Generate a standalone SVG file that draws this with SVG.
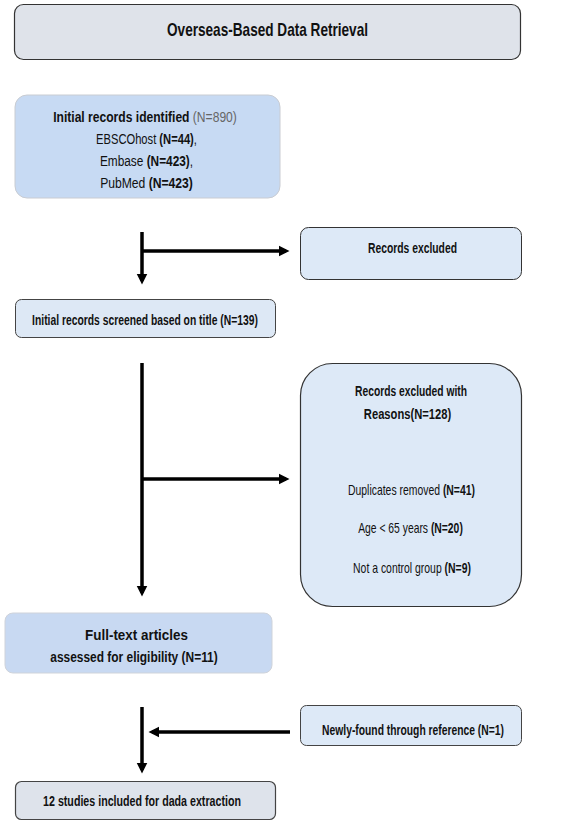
<svg xmlns="http://www.w3.org/2000/svg" width="568" height="821" viewBox="0 0 568 821">
<style>
text{font-family:"Liberation Sans",Arial,sans-serif;fill:#111;font-size:14px;text-anchor:middle}
.k{font-size:15px}
.h{font-size:18px}
.b{font-weight:bold}
.g{fill:#666;font-weight:normal}
.conn{stroke:#000;stroke-width:3.5;fill:none}
</style>
<defs>
<marker id="ah" markerWidth="6" markerHeight="6" refX="2" refY="3" orient="auto" markerUnits="strokeWidth">
<path d="M0,1.5 L3,3 L0,4.5 Z" fill="#000"/>
</marker>
</defs>
<rect width="568" height="821" fill="#fff"/>
<g id="title">
<rect x="14.5" y="4.5" width="506" height="55" rx="9" fill="#dfe3ea" stroke="#333" stroke-width="1.2"/>
<text class="h b" transform="translate(267.5,36) scale(0.756,1)">Overseas-Based Data Retrieval</text>
</g>
<g id="initial">
<rect x="15" y="95" width="265" height="103" rx="12" fill="#c7daf3" stroke="#c9ccd2" stroke-width="1"/>
<text class="k" transform="translate(145,122) scale(0.807,1)"><tspan class="b">Initial records identified</tspan><tspan class="g"> (N=890)</tspan></text>
<text class="k" transform="translate(146.5,144) scale(0.745,1)">EBSCOhost <tspan class="b">(N=44)</tspan>,</text>
<text class="k" transform="translate(146.5,166) scale(0.79,1)">Embase <tspan class="b">(N=423)</tspan>,</text>
<text class="k" transform="translate(146.5,188) scale(0.81,1)">PubMed <tspan class="b">(N=423)</tspan></text>
</g>
<g id="excluded1">
<rect x="300.5" y="227.5" width="221" height="52" rx="8" fill="#dde9f7" stroke="#333" stroke-width="1"/>
<text class="b" transform="translate(412.5,253) scale(0.738,1)">Records excluded</text>
</g>
<g id="screened">
<rect x="15.5" y="299.5" width="260" height="38" rx="6" fill="#dde8f5" stroke="#444" stroke-width="1"/>
<text class="b" transform="translate(145,325) scale(0.738,1)">Initial records screened based on title (N=139)</text>
</g>
<g id="excluded2">
<rect x="300.5" y="363.5" width="221" height="243" rx="32" fill="#dde9f7" stroke="#333" stroke-width="1.2"/>
<text class="b" transform="translate(411,396) scale(0.735,1)">Records excluded with</text>
<text class="b" transform="translate(407.5,419) scale(0.8,1)">Reasons(N=128)</text>
<text transform="translate(411.5,495) scale(0.744,1)">Duplicates removed <tspan class="b">(N=41)</tspan></text>
<text transform="translate(410.5,533) scale(0.74,1)">Age &lt; 65 years <tspan class="b">(N=20)</tspan></text>
<text transform="translate(412,573) scale(0.745,1)">Not a control group <tspan class="b">(N=9)</tspan></text>
</g>
<g id="fulltext">
<rect x="5" y="613" width="267" height="60" rx="8" fill="#c8d9f2" stroke="#cfd3da" stroke-width="1"/>
<text class="k b" transform="translate(136.5,640) scale(0.895,1)">Full-text articles</text>
<text class="k b" transform="translate(134,662) scale(0.796,1)">assessed for eligibility (N=11)</text>
</g>
<g id="newly">
<rect x="300.5" y="705.5" width="221" height="40" rx="6" fill="#dde9f7" stroke="#444" stroke-width="1"/>
<text class="b" transform="translate(413,735) scale(0.737,1)">Newly-found through reference (N=1)</text>
</g>
<g id="final">
<rect x="15.5" y="781.5" width="260" height="38" rx="6" fill="#dee3eb" stroke="#444" stroke-width="1.2"/>
<text class="b" transform="translate(142,806) scale(0.762,1)">12 studies included for dada extraction</text>
</g>
<g id="connectors">
<line class="conn" x1="142" y1="232" x2="142" y2="281" marker-end="url(#ah)"/>
<line class="conn" x1="142" y1="251" x2="286" y2="251" marker-end="url(#ah)"/>
<line class="conn" x1="142" y1="363" x2="142" y2="593" marker-end="url(#ah)"/>
<line class="conn" x1="142" y1="479" x2="286" y2="479" marker-end="url(#ah)"/>
<line class="conn" x1="142" y1="707" x2="142" y2="770" marker-end="url(#ah)"/>
<line class="conn" x1="290" y1="732" x2="152" y2="732" marker-end="url(#ah)"/>
</g>
</svg>
